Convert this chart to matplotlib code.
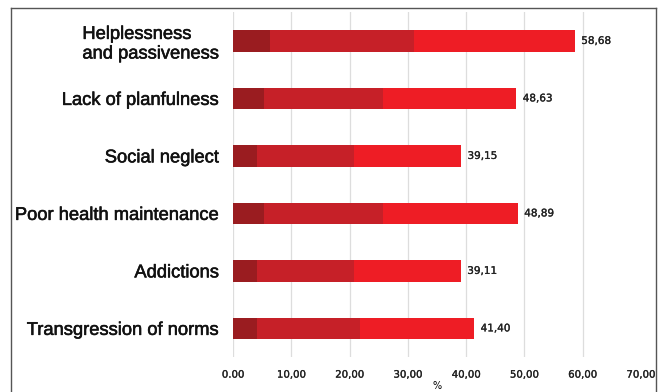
import matplotlib.pyplot as plt
import matplotlib.patheffects as pe
import numpy as np
from matplotlib.lines import Line2D

# categories top to bottom
categories = ["Helplessness\nand passiveness", "Lack of planfulness", "Social neglect",
              "Poor health maintenance", "Addictions", "Transgression of norms"]
dark = [6.4, 5.3, 4.1, 5.3, 4.1, 4.2]
medium = [24.6, 20.5, 16.6, 20.5, 16.6, 17.6]
totals = [58.68, 48.63, 39.15, 48.89, 39.11, 41.40]
total_labels = ["58,68", "48,63", "39,15", "48,89", "39,11", "41,40"]
xticks = [0, 10, 20, 30, 40, 50, 60, 70]
xtick_labels = ["0.00", "10,00", "20,00", "30,00", "40,00", "50,00", "60,00", "70,00"]

dark = np.array(dark)
medium = np.array(medium)
bright = np.array(totals) - dark - medium
y = np.arange(len(categories))

thick = [pe.withStroke(linewidth=0.4, foreground='#111111')]
thin = [pe.withStroke(linewidth=0.2, foreground='#222222')]

fig = plt.figure(figsize=(6.62, 3.92), dpi=100)
ax = fig.add_axes([0.352, 0.089, 0.616, 0.880])

h = 0.37
ax.barh(y, dark, height=h, color='#9a1c20', zorder=3)
ax.barh(y, medium, left=dark, height=h, color='#c62028', zorder=3)
ax.barh(y, bright, left=dark + medium, height=h, color='#ee1d25', zorder=3)

for yi, t, lab in zip(y, totals, total_labels):
    ax.text(t + 1.1, yi, lab, va='center', ha='left', fontsize=7.5,
            family='DejaVu Sans', color='#222222', path_effects=thin)

ax.set_ylim(len(categories) - 0.5, -0.5)
ax.set_xlim(0, 70)
ax.set_yticks(y)
ax.set_yticklabels(categories, fontsize=13.2, family='Liberation Sans', color='#111111')
for lbl in ax.get_yticklabels():
    lbl.set_multialignment('left')
    lbl.set_path_effects(thick)
ax.set_xticks(xticks)
ax.set_xticklabels(xtick_labels, fontsize=7.3, family='DejaVu Sans', color='#222222')
for lbl in ax.get_xticklabels():
    lbl.set_path_effects(thin)
ax.tick_params(axis='x', length=0, pad=9)
ax.tick_params(axis='y', length=0, pad=10)
ax.grid(axis='x', color='#dddddd', linewidth=0.9, zorder=0)
ax.get_xgridlines()[-1].set_visible(False)
for s in ax.spines.values():
    s.set_visible(False)
ax.set_xlabel('%', fontsize=7, family='DejaVu Sans', labelpad=1)

# picture frame
fig.add_artist(Line2D([11 / 662, 11 / 662], [0, 1 - 8 / 392], transform=fig.transFigure, color='#555555', lw=1))
fig.add_artist(Line2D([656 / 662, 656 / 662], [0, 1 - 8 / 392], transform=fig.transFigure, color='#555555', lw=1))
fig.add_artist(Line2D([11 / 662, 656 / 662], [1 - 8 / 392, 1 - 8 / 392], transform=fig.transFigure, color='#555555', lw=1))

fig.savefig('out.png', dpi=100)
